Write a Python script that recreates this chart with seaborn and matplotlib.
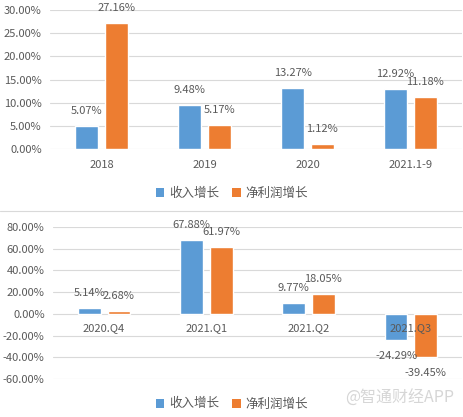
import pandas as pd
import matplotlib.pyplot as plt
import seaborn as sns
from matplotlib.patches import Patch
from matplotlib.lines import Line2D
from matplotlib.ticker import FuncFormatter

# data (percent)
top_cats = ['2018', '2019', '2020', '2021.1-9']
top_rev = [5.07, 9.48, 13.27, 12.92]
top_np = [27.16, 5.17, 1.12, 11.18]

bot_cats = ['2020.Q4', '2021.Q1', '2021.Q2', '2021.Q3']
bot_rev = [5.14, 67.88, 9.77, -24.29]
bot_np = [2.68, 61.97, 18.05, -39.45]

series = ['收入增长', '净利润增长']
colors = ['#5B9BD5', '#ED7D31']
txt = '#595959'

sns.set_style('white')
plt.rcParams['font.family'] = ['Noto Sans CJK SC', 'DejaVu Sans']


def make_df(cats, a, b):
    return pd.DataFrame({
        'cat': cats * 2,
        'val': a + b,
        'series': [series[0]] * len(cats) + [series[1]] * len(cats),
    })


def draw(ax, df, ylim, step, zero_axis=False):
    sns.barplot(data=df, x='cat', y='val', hue='series', palette=colors,
                saturation=1, width=0.58, gap=0.23, legend=False, ax=ax, zorder=2)
    ax.set_ylim(*ylim)
    ax.set_xlim(-0.5, len(df['cat'].unique()) - 0.5)
    ax.set_yticks(range(ylim[0], ylim[1] + 1, step))
    ax.yaxis.set_major_formatter(FuncFormatter(lambda v, p: f'{v:.2f}%'))
    ax.grid(axis='y', color='#D9D9D9', linewidth=0.8, zorder=0)
    ax.set_axisbelow(True)
    ax.xaxis.set_zorder(3)
    for s in ax.spines.values():
        s.set_visible(False)
    ax.set_xlabel('')
    ax.set_ylabel('')
    ax.tick_params(axis='both', length=0, labelsize=8, labelcolor=txt)
    ax.tick_params(axis='y', pad=6)
    ax.tick_params(axis='x', pad=8)
    if zero_axis:
        ax.spines['bottom'].set_position(('data', 0))
        ax.tick_params(axis='x', pad=7)
    for cont in ax.containers:
        for bar, v in zip(cont, cont.datavalues):
            x = bar.get_x() + bar.get_width() / 2
            off = 15 if v >= 0 else -16
            ax.annotate(f'{v:.2f}%', (x, v), xytext=(0, off),
                        textcoords='offset pixels', ha='center', va='center',
                        fontsize=8, color=txt)


fig = plt.figure(figsize=(4.64, 4.17), dpi=100)

ax1 = fig.add_axes([50 / 464, 1 - 149 / 417, 412 / 464, 139 / 417])
draw(ax1, make_df(top_cats, top_rev, top_np), (0, 30), 5)

ax2 = fig.add_axes([53 / 464, 1 - 379 / 417, 409 / 464, 152 / 417])
draw(ax2, make_df(bot_cats, bot_rev, bot_np), (-60, 80), 20, zero_axis=True)

handles = [Patch(facecolor=c, edgecolor='none', label=s) for c, s in zip(colors, series)]
for y in (1 - 193 / 417, 1 - 404 / 417):
    fig.legend(handles=handles, loc='center', bbox_to_anchor=(0.5, y),
               ncol=2, frameon=False, fontsize=9, labelcolor=txt,
               handlelength=0.7, handleheight=0.7, handletextpad=0.4,
               columnspacing=1.0)

# separator between the two charts
fig.add_artist(Line2D([0, 1], [1 - 211 / 417, 1 - 211 / 417],
                      color='#D9D9D9', linewidth=0.8, transform=fig.transFigure))

# watermark
fig.text(400 / 464, 1 - 398 / 417, '@智通财经APP', ha='center', va='center',
         fontsize=11.5, color='#D6D6D6')

fig.savefig('out.png', dpi=100)
